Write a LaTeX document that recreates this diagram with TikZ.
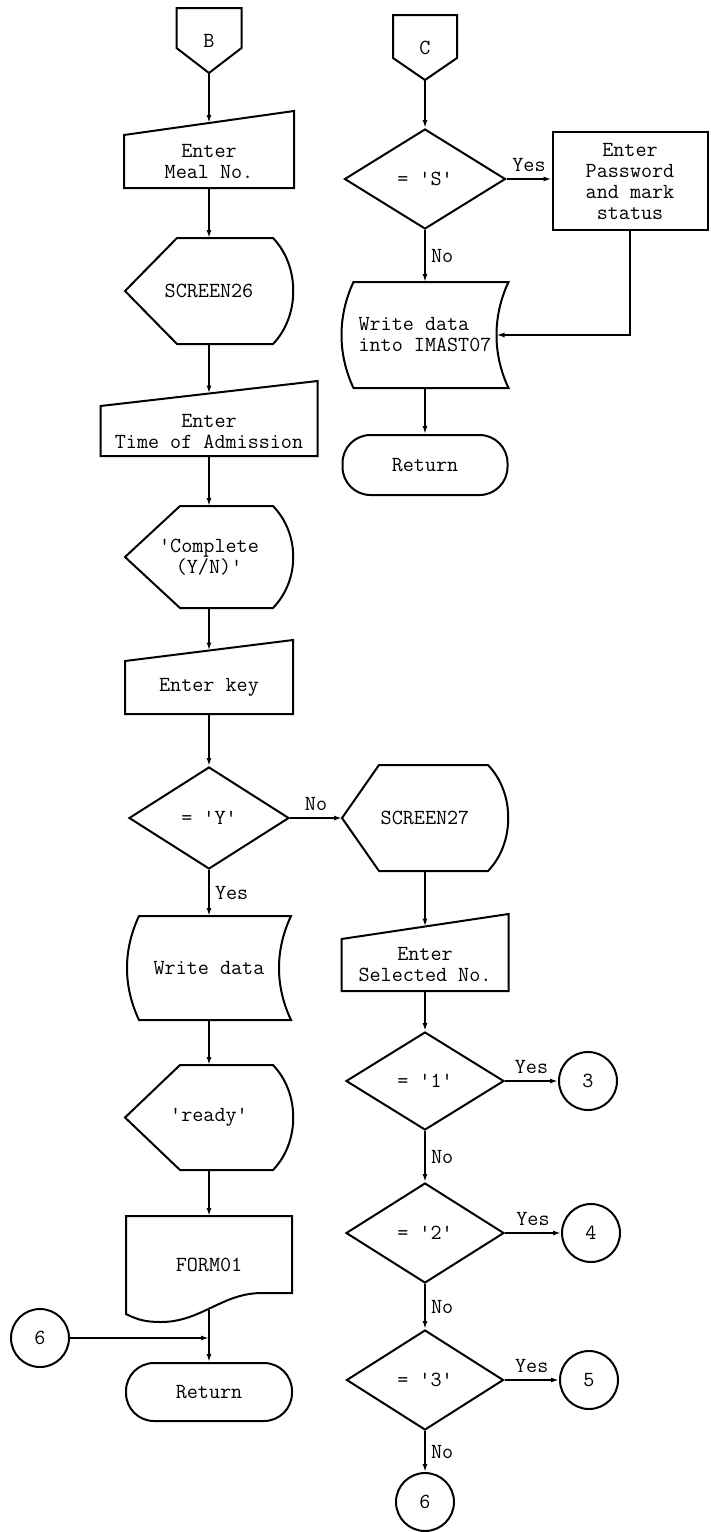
\documentclass[tikz,border=0pt]{standalone}
\usepackage{fontspec}
\usetikzlibrary{arrows.meta,calc,shapes.geometric}

\begin{document}
\begin{tikzpicture}[x=1pt, y=-1pt, line width=2pt,
  every node/.style={font=\ttfamily\fontsize{21.5}{21}\selectfont, align=center, inner sep=0pt},
  wh/.style 2 args={minimum width=#1pt, minimum height=#2pt},
  arr/.style={-{Latex[length=8pt,width=5pt]}},
  lblup/.style={above=6pt},
  lblright/.style={right=5pt},
  box/.style={rectangle, draw},
  decision/.style={diamond, draw},
  term/.style={rectangle, draw, rounded corners=28pt},
  conn/.style={circle, draw, minimum size=58pt},
  offpage/.style={append after command={\pgfextra{\draw (\tikzlastnode.north west) -- (\tikzlastnode.north east) -- ($(\tikzlastnode.south east)+(0,-#1)$) -- (\tikzlastnode.south) -- ($(\tikzlastnode.south west)+(0,-#1)$) -- cycle;}}},
  manin/.style={append after command={\pgfextra{\draw (\tikzlastnode.south west) -- (\tikzlastnode.north west) -- ($(\tikzlastnode.north east)+(0,-#1)$) -- (\tikzlastnode.south east) -- cycle;}}},
  display/.style={append after command={\pgfextra{\draw (\tikzlastnode.west) -- ($(\tikzlastnode.north west)+(#1,0)$) -- ($(\tikzlastnode.north east)+(-20,0)$) .. controls +(27,28) and +(27,-28) .. ($(\tikzlastnode.south east)+(-20,0)$) -- ($(\tikzlastnode.south west)+(#1,0)$) -- cycle;}}},
  stored/.style={append after command={\pgfextra{\draw ($(\tikzlastnode.north west)+(12,0)$) -- (\tikzlastnode.north east) .. controls +(-16,34) and +(-16,-34) .. (\tikzlastnode.south east) -- ($(\tikzlastnode.south west)+(12,0)$) .. controls +(-16,-34) and +(-16,34) .. ($(\tikzlastnode.north west)+(12,0)$) -- cycle;}}},
  doc/.style={append after command={\pgfextra{\draw (\tikzlastnode.south west) .. controls +(12,6) and +(-15,0) .. ($(\tikzlastnode.south west)+(35,8)$) .. controls +(40,0) and +(-40,0) .. ($(\tikzlastnode.south east)+(-30,-21)$) -- ($(\tikzlastnode.south east)+(0,-21)$) -- (\tikzlastnode.north east) -- (\tikzlastnode.north west) -- cycle;}}}]
\useasboundingbox (0,0) rectangle (711,1532);

% entry B
\node[offpage=25, wh={63}{63}] (b) at (209,40.5) {B};
\node[manin=24, wh={168}{51}] (meal) at (209,161.5) {Enter\\Meal No.};
\node[display=52, wh={166}{104}] (s26) at (209,291) {SCREEN26};
\node[manin=25, wh={215}{48}] (time) at (209,431) {Enter\\Time of Admission};
\node[display=55, wh={166}{100}] (compl) at (209,557) {'Complete\\(Y/N)'};
\node[manin=21, wh={166}{51}] (key) at (209,687.5) {Enter key};
\node[decision, wh={160}{102}] (isy) at (209,818) {= 'Y'};
\node[stored, wh={162}{102}] (wdata) at (209,968) {Write data};
\node[display=55, wh={166}{103}] (ready) at (209,1117.5) {'ready'};
\node[doc, wh={164}{96}] (form) at (209,1265) {FORM01};
\node[term, wh={166}{58}] (ret) at (209,1392) {Return};
\node[conn] (c6a) at (40,1338) {6};

\node[display=37, wh={164}{104}] (s27) at (425,818) {SCREEN27};
\node[manin=25, wh={165}{50}] (sel) at (425,965) {Enter\\Selected No.};
\node[decision, wh={158}{98}] (d1) at (425,1081) {= '1'};
\node[decision, wh={158}{100}] (d2) at (425,1233) {= '2'};
\node[decision, wh={157}{100}] (d3) at (425,1380) {= '3'};
\node[conn] (c3) at (588,1081) {3};
\node[conn] (c4) at (591,1233) {4};
\node[conn] (c5) at (589,1380) {5};
\node[conn] (c6b) at (425,1502) {6};

% entry C
\node[offpage=22, wh={62}{63}] (c) at (425,47.5) {C};
\node[decision, wh={161}{100}] (iss) at (425,179) {= 'S'};
\node[box, wh={155}{98}] (pw) at (630,181) {Enter\\Password\\and mark\\status};
\node[stored, wh={165}{104}, align=left] (w2) at (425,335) {Write data\\into IMAST07};
\node[term, wh={165}{60}] (ret2) at (425,465) {Return};

\draw[arr] (b.south) -- ($(meal.north)+(0,-12)$);
\draw[arr] (meal) -- (s26);
\draw[arr] (s26) -- ($(time.north)+(0,-12.5)$);
\draw[arr] (time) -- (compl);
\draw[arr] (compl) -- ($(key.north)+(0,-10.5)$);
\draw[arr] (key) -- (isy);
\draw[arr] (isy) -- (s27.west) node[midway, lblup] {No};
\draw[arr] (isy) -- (wdata) node[midway, lblright] {Yes};
\draw[arr] (wdata) -- (ready);
\draw[arr] (ready) -- (form);
\draw[arr] ($(form.south)+(0,-4)$) -- (ret);
\draw[arr] (c6a) -- (c6a -| ret.north);

\draw[arr] (s27) -- ($(sel.north)+(0,-12.5)$);
\draw[arr] (sel) -- (d1);
\draw[arr] (d1) -- (c3) node[midway, lblup] {Yes};
\draw[arr] (d1) -- (d2) node[midway, lblright] {No};
\draw[arr] (d2) -- (c4) node[midway, lblup] {Yes};
\draw[arr] (d2) -- (d3) node[midway, lblright] {No};
\draw[arr] (d3) -- (c5) node[midway, lblup] {Yes};
\draw[arr] (d3) -- (c6b) node[midway, lblright] {No};

\draw[arr] (c.south) -- (iss);
\draw[arr] (iss.east) -- (iss.east -| pw.west) node[midway, lblup] {Yes};
\draw[arr] (iss) -- (w2) node[midway, lblright] {No};
\draw[arr] (pw.south) |- ($(w2.east)+(-12,0)$);
\draw[arr] (w2) -- (ret2);
\end{tikzpicture}
\end{document}
